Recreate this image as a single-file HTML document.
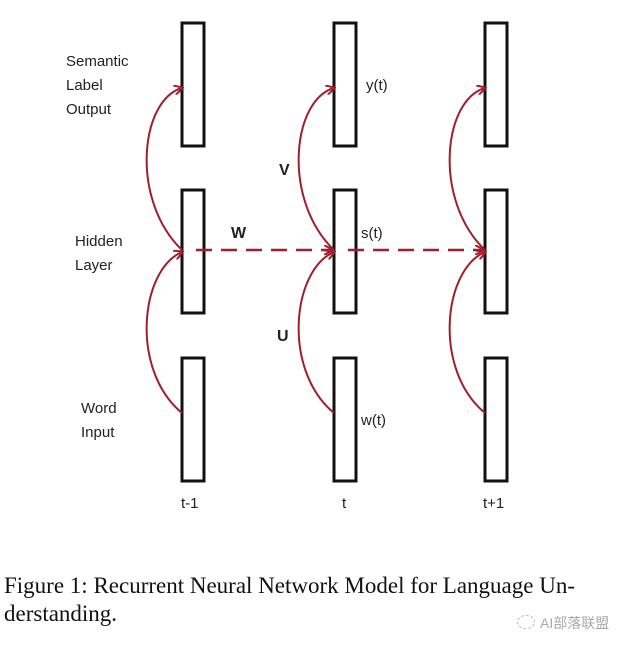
<!DOCTYPE html>
<html><head><style>
body{margin:0;width:638px;height:652px;background:#fff;overflow:hidden;position:relative}
.l{position:absolute;font-family:"Liberation Sans",sans-serif;font-size:15px;color:#222;line-height:24px}
.cap{position:absolute;left:4px;font-family:"Liberation Serif",serif;font-size:23px;color:#111;white-space:nowrap}
</style></head><body>
<svg width="638" height="652" style="position:absolute;left:0;top:0">
<defs><marker id="a" markerWidth="10" markerHeight="10" refX="8" refY="5" orient="auto" markerUnits="userSpaceOnUse"><path d="M0,0 L9,5 L0,10" fill="none" stroke="#a01e2e" stroke-width="2"/></marker></defs>
<g fill="none" stroke="#111" stroke-width="3">
<rect x="182" y="23" width="22" height="123"/><rect x="182" y="190" width="22" height="123"/><rect x="182" y="358" width="22" height="123"/>
<rect x="334" y="23" width="22" height="123"/><rect x="334" y="190" width="22" height="123"/><rect x="334" y="358" width="22" height="123"/>
<rect x="485" y="23" width="22" height="123"/><rect x="485" y="190" width="22" height="123"/><rect x="485" y="358" width="22" height="123"/>
</g>
<g fill="none" stroke="#a01e2e" stroke-width="2">
<path d="M182,250 C130,200 140,100 182,88" marker-end="url(#a)"/>
<path d="M182,413 C130,370 140,270 182,252" marker-end="url(#a)"/>
<path d="M334,250 C282,200 292,100 334,88" marker-end="url(#a)"/>
<path d="M334,413 C282,370 292,270 334,252" marker-end="url(#a)"/>
<path d="M485,250 C433,200 443,100 485,88" marker-end="url(#a)"/>
<path d="M485,413 C433,370 443,270 485,252" marker-end="url(#a)"/>
<path d="M196,250 L332,250" stroke-dasharray="16,9" stroke-width="2.5" marker-end="url(#a)"/>
<path d="M348,250 L483,250" stroke-dasharray="16,9" stroke-width="2.5" marker-end="url(#a)"/>
</g>
</svg>
<div class="l" style="left:66px;top:50px">Semantic<br>Label<br>Output</div>
<div class="l" style="left:75px;top:230px">Hidden<br>Layer</div>
<div class="l" style="left:81px;top:397px">Word<br>Input</div>
<div class="l" style="left:366px;top:74px">y(t)</div>
<div class="l" style="left:361px;top:222px">s(t)</div>
<div class="l" style="left:361px;top:409px">w(t)</div>
<div class="l" style="left:231px;top:222px;font-weight:bold;font-size:16px">W</div>
<div class="l" style="left:279px;top:159px;font-weight:bold;font-size:16px">V</div>
<div class="l" style="left:277px;top:325px;font-weight:bold;font-size:16px">U</div>
<div class="l" style="left:181px;top:492px">t-1</div>
<div class="l" style="left:342px;top:492px">t</div>
<div class="l" style="left:483px;top:492px">t+1</div>
<div class="cap" style="top:573px">Figure 1: Recurrent Neural Network Model for Language Un-</div>
<div class="cap" style="top:601px">derstanding.</div>
<div style="position:absolute;left:540px;top:613px;font-family:'Liberation Sans','Noto Sans CJK SC',sans-serif;font-size:14px;color:#aaa">AI部落联盟</div>
<div style="position:absolute;left:517px;top:615px;width:16px;height:12px;border:1px dashed #bbb;border-radius:50%"></div>
</body></html>
